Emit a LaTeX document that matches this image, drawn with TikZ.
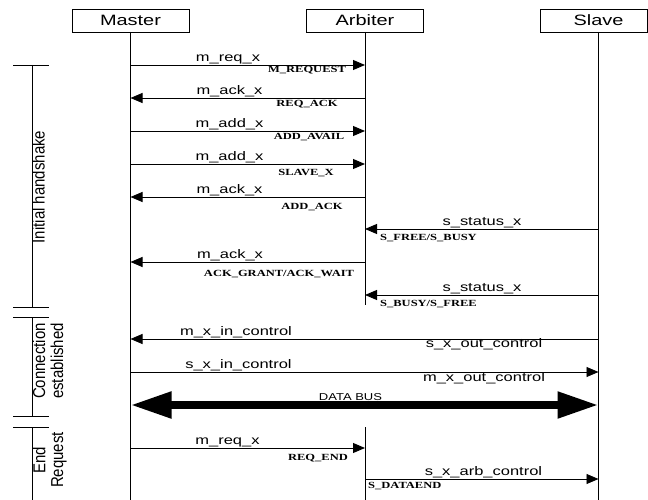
\documentclass[tikz,border=0pt]{standalone}
\usepackage{fontspec}
\setmainfont{Liberation Sans}
\newfontfamily\tnr{Liberation Serif}
\usepackage{graphicx}
\usetikzlibrary{arrows.meta}
\newcommand{\sxx}[1]{\scalebox{1.33}[1]{#1}}
\newcommand{\syy}[1]{\scalebox{1}[1.15]{#1}}
\begin{document}
\begin{tikzpicture}[x=1pt,y=-1pt,
  box/.style={draw, line width=0.9pt, minimum width=117pt, minimum height=23pt, inner sep=0pt, font=\fontsize{15}{18}\selectfont},
  life/.style={line width=0.9pt},
  msg/.style={line width=0.9pt, -{Triangle[length=12pt,width=10pt]}},
  sig/.style={inner sep=0pt, anchor=base, font=\fontsize{12.4}{14}\selectfont},
  val/.style={inner sep=0pt, anchor=base, font=\fontsize{9.4}{11}\selectfont\tnr\bfseries},
  phase/.style={inner sep=0pt, rotate=90, anchor=base, font=\fontsize{15}{15.4}\selectfont},
  brk/.style={line width=0.9pt},
  bus/.style={line width=8pt, {Triangle[length=41pt,width=25pt]}-{Triangle[length=41pt,width=25pt]}}
]
\useasboundingbox (0,0) rectangle (648,500);

% participants
\node[box] (master) at (130.5,20.5) {\sxx{Master}};
\node[box] (arbiter) at (365,20.5) {\sxx{Arbiter}};
\node[box, minimum width=107.5pt] (slave) at (593.75,20.5) {};
\node[inner sep=0pt, font=\fontsize{15}{18}\selectfont] (slavelbl) at (598.5,20.5) {\sxx{Slave}};

% lifeline end points
\coordinate (Mtop) at (130.5,32);
\coordinate (Mend) at (130.5,500);
\coordinate (Atop) at (365,32);
\coordinate (Aend1) at (365,305);
\coordinate (Abeg2) at (365,427);
\coordinate (Aend2) at (365,500);
\coordinate (Stop) at (598.5,32);
\coordinate (Send) at (598.5,500);

\draw[life] (Mtop) -- (Mend);
\draw[life] (Atop) -- (Aend1);
\draw[life] (Abeg2) -- (Aend2);
\draw[life] (Stop) -- (Send);

\foreach \n/\y in {1/65,2/98,3/131,4/164,5/197,6/229,7/262,8/295,9/339,10/372,11/405,12/448,13/479}{
  \coordinate (M\n) at (130.5,\y);
  \coordinate (A\n) at (365,\y);
  \coordinate (S\n) at (598.5,\y);
}

% messages
\draw[msg] (M1) -- (A1);
\draw[msg] (A2) -- (M2);
\draw[msg] (M3) -- (A3);
\draw[msg] (M4) -- (A4);
\draw[msg] (A5) -- (M5);
\draw[msg] (S6) -- (A6);
\draw[msg] (A7) -- (M7);
\draw[msg] (S8) -- (A8);
\draw[msg] (S9) -- (M9);
\draw[msg] (M10) -- (S10);
\draw[bus] (M11) -- (S11);
\draw[msg] (M12) -- (A12);
\draw[msg] (A13) -- (S13);

% signal labels
\node[sig] (l1) at (228,61.5) {\sxx{m\_req\_x}};
\node[sig] (l2) at (229.5,94.5) {\sxx{m\_ack\_x}};
\node[sig] (l3) at (229.5,127.5) {\sxx{m\_add\_x}};
\node[sig] (l4) at (229.5,160.5) {\sxx{m\_add\_x}};
\node[sig] (l5) at (229.5,193.5) {\sxx{m\_ack\_x}};
\node[sig] (l6) at (482,225.5) {\sxx{s\_status\_x}};
\node[sig] (l7) at (230,258.5) {\sxx{m\_ack\_x}};
\node[sig] (l8) at (482,291.5) {\sxx{s\_status\_x}};
\node[sig] (l9) at (236,335.5) {\sxx{m\_x\_in\_control}};
\node[sig] (l9b) at (484,347.5) {\sxx{s\_x\_out\_control}};
\node[sig] (l10) at (238.5,368.5) {\sxx{s\_x\_in\_control}};
\node[sig] (l10b) at (484,381) {\sxx{m\_x\_out\_control}};
\node[inner sep=0pt, anchor=base, font=\fontsize{10}{12}\selectfont] (l11) at (350.5,400) {\scalebox{1.3}[1]{DATA BUS}};
\node[sig] (l12) at (227.5,444.5) {\sxx{m\_req\_x}};
\node[sig] (l13) at (483.5,475.5) {\sxx{s\_x\_arb\_control}};

% value labels
\node[val] (v1) at (307,72.3) {\sxx{M\_REQUEST}};
\node[val] (v2) at (307,106.5) {\sxx{REQ\_ACK}};
\node[val] (v3) at (309,140) {\sxx{ADD\_AVAIL}};
\node[val] (v4) at (306,175.5) {\sxx{SLAVE\_X}};
\node[val] (v5) at (312,209) {\sxx{ADD\_ACK}};
\node[val, anchor=base west] (v6) at (380,240.5) {\sxx{S\_FREE/S\_BUSY}};
\node[val] (v7) at (279,276) {\sxx{ACK\_GRANT/ACK\_WAIT}};
\node[val, anchor=base west] (v8) at (380,306.5) {\sxx{S\_BUSY/S\_FREE}};
\node[val] (v12) at (318,460) {\sxx{REQ\_END}};
\node[val, anchor=base west] (v13) at (368,488.3) {\sxx{S\_DATAEND}};

% phase brackets
\draw[brk] (32,65) -- (32,307);
\draw[brk] (13,65) -- (49,65);
\draw[brk] (13,307) -- (49,307);
\draw[brk] (32,317) -- (32,416);
\draw[brk] (13,317) -- (49,317);
\draw[brk] (13,416) -- (49,416);
\draw[brk] (32,427) -- (32,500);
\draw[brk] (13,427) -- (49,427);

\node[phase] (p1) at (44.5,187) {\syy{Initial handshake}};
\node[phase] (p2) at (63,361) {\syy{\begin{tabular}[b]{@{}c@{}}Connection\\established\end{tabular}}};
\node[phase] (p3) at (63,460) {\syy{\begin{tabular}[b]{@{}c@{}}End\\Request\end{tabular}}};
\end{tikzpicture}
\end{document}
